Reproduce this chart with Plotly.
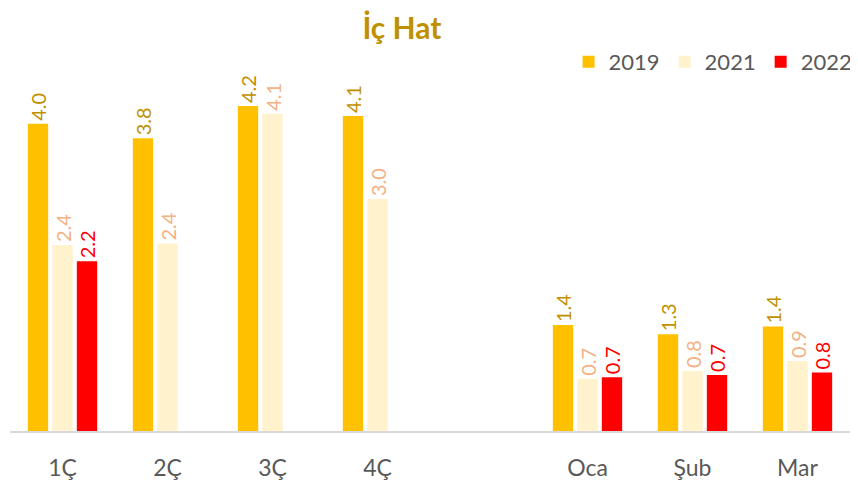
import plotly.graph_objects as go

categories = ["1Ç", "2Ç", "3Ç", "4Ç", " ", "Oca", "Şub", "Mar"]
series_names = ["2019", "2021", "2022"]
values_2019 = [4.0, 3.81, 4.23, 4.10, None, 1.38, 1.26, 1.36]
values_2021 = [2.42, 2.44, 4.13, 3.02, None, 0.68, 0.78, 0.91]
values_2022 = [2.21, None, None, None, None, 0.70, 0.73, 0.76]

bar_colors = ["#FFC000", "#FFF2CC", "#FF0000"]
label_colors = ["#BF9000", "#F4B183", "#FF0000"]

fig = go.Figure()
for name, vals, bc, lc in zip(series_names, [values_2019, values_2021, values_2022], bar_colors, label_colors):
    fig.add_trace(go.Bar(
        name=name, x=categories, y=vals,
        marker=dict(color=bc, line=dict(width=0)),
        text=[None if v is None else f"{v:.1f}" for v in vals],
        texttemplate="%{text}",
        textposition="outside", textangle=-90, constraintext="none",
        textfont=dict(color=lc, size=20, family="Lato"),
        cliponaxis=False,
    ))

# page body has an 8px margin, so the figure is sized to fit the window
fig.update_layout(
    width=850, height=478,
    barmode="group", bargap=0.3, bargroupgap=0.17,
    plot_bgcolor="white", paper_bgcolor="white",
    margin=dict(l=2, r=8, t=52, b=55, autoexpand=False),
    font=dict(family="Lato", color="#595959"),
    title=dict(text="<b>İç Hat</b>", x=0.4635, xanchor="center", y=0.957, yanchor="middle",
               font=dict(size=30, color="#BF9000", family="Lato")),
    legend=dict(orientation="h", x=1.009, xanchor="right", y=0.9946, yanchor="middle",
                font=dict(size=22, color="#595959"), itemwidth=30, tracegroupgap=0,
                bgcolor="rgba(0,0,0,0)"),
    xaxis=dict(type="category", categoryorder="array", categoryarray=categories,
               showline=True, linecolor="#D9D9D9", linewidth=1.5, showgrid=False,
               automargin=False,
               ticks="", tickfont=dict(size=23, color="#595959"), ticklabelstandoff=16),
    yaxis=dict(visible=False, range=[0, 4.83], showgrid=False, zeroline=False, automargin=False),
)

fig.write_html("out.html")
